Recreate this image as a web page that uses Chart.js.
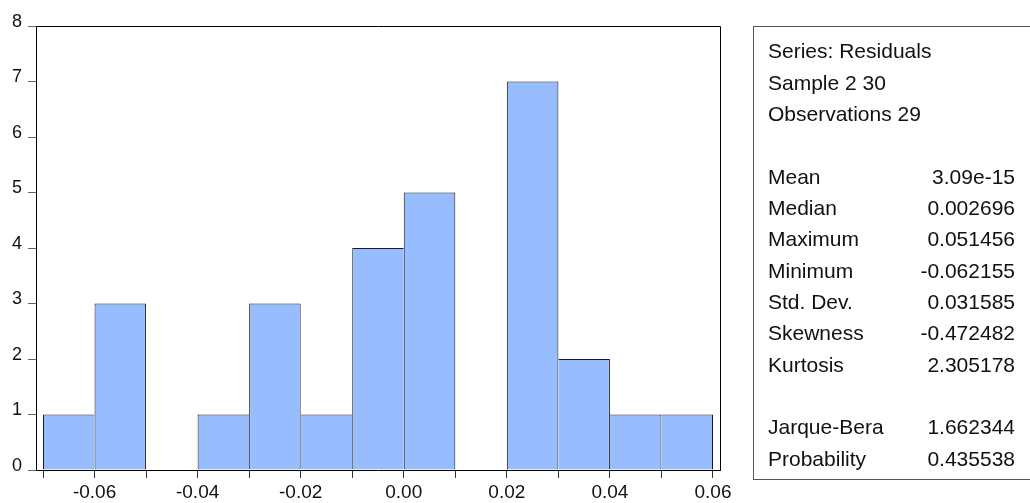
<!DOCTYPE html>
<html>
<head>
<meta charset="utf-8">
<script src="https://cdn.jsdelivr.net/npm/chart.js@4.4.1/dist/chart.umd.min.js"></script>
<style>
  html, body { margin: 0; padding: 0; background: #fff; }
  #wrap { position: relative; width: 1030px; height: 503px; overflow: hidden; }
  #c { position: absolute; left: 0; top: 0; }
  #stats {
    position: absolute; left: 753px; top: 26px; width: 320px; height: 454px;
    border: 1px solid #555; box-sizing: border-box; background: transparent;
  }
  .line {
    position: absolute; left: 768px; width: 247px; height: 31px;
    font-family: "Liberation Sans", Arial, sans-serif; font-size: 21px; color: #111;
    line-height: 31px; white-space: nowrap;
  }
  .line .v { position: absolute; right: 0; top: 0; }
</style>
</head>
<body>
<div id="wrap">
  <canvas id="c" width="1030" height="503"></canvas>
  <div id="stats"></div>
</div>
<script>
// ---- data ----
const binCenters = [-0.065, -0.055, -0.045, -0.035, -0.025, -0.015, -0.005, 0.005, 0.015, 0.025, 0.035, 0.045, 0.055];
const binCounts  = [1, 3, 0, 1, 3, 1, 4, 5, 0, 7, 2, 1, 1];
const xTickValues = [-0.07, -0.06, -0.05, -0.04, -0.03, -0.02, -0.01, 0.00, 0.01, 0.02, 0.03, 0.04, 0.05, 0.06];
const xTickLabels = ['', '-0.06', '', '-0.04', '', '-0.02', '', '0.00', '', '0.02', '', '0.04', '', '0.06'];
const yTickValues = [0, 1, 2, 3, 4, 5, 6, 7, 8];
const headerLines = ['Series: Residuals', 'Sample 2 30', 'Observations 29'];
const statNames  = ['Mean', 'Median', 'Maximum', 'Minimum', 'Std. Dev.', 'Skewness', 'Kurtosis'];
const statValues = ['3.09e-15', '0.002696', '0.051456', '-0.062155', '0.031585', '-0.472482', '2.305178'];
const testNames  = ['Jarque-Bera', 'Probability'];
const testValues = ['1.662344', '0.435538'];

// ---- stats panel (real text) ----
(function () {
  const wrap = document.getElementById('wrap');
  const rows = [];
  headerLines.forEach(t => rows.push([t, '']));
  rows.push(null);
  statNames.forEach((n, i) => rows.push([n, statValues[i]]));
  rows.push(null);
  testNames.forEach((n, i) => rows.push([n, testValues[i]]));
  const firstBaseline = 58, step = 31.35, fs = 21, lh = 31;
  const baseInBox = (lh - 1.117 * fs) / 2 + 0.905 * fs;
  rows.forEach((r, k) => {
    if (!r) return;
    const d = document.createElement('div');
    d.className = 'line';
    d.style.top = (firstBaseline + k * step - baseInBox) + 'px';
    const l = document.createElement('span'); l.textContent = r[0]; d.appendChild(l);
    if (r[1]) { const v = document.createElement('span'); v.className = 'v'; v.textContent = r[1]; d.appendChild(v); }
    wrap.appendChild(d);
  });
})();

// ---- chart ----
const framePlugin = {
  id: 'frame',
  afterDraw(chart) {
    const a = chart.chartArea, ctx = chart.ctx;
    ctx.save();
    ctx.strokeStyle = '#000';
    ctx.lineWidth = 1;
    ctx.beginPath();
    const l = Math.round(a.left) + 0.5, r = Math.round(a.right) + 0.5, t = Math.round(a.top) + 0.5, b = Math.round(a.bottom) + 0.5;
    ctx.moveTo(l, t); ctx.lineTo(r, t); ctx.lineTo(r, b);
    ctx.stroke();
    ctx.restore();
  }
};

new Chart(document.getElementById('c'), {
  type: 'bar',
  data: {
    datasets: [{
      data: binCenters.map((x, i) => ({ x: x, y: binCounts[i] })),
      backgroundColor: 'rgb(151,189,255)',
      borderColor: '#1a1a1a',
      borderWidth: (ctx) => {
        const i = ctx.dataIndex, c = binCounts[i];
        if (!c) return 0;
        const prev = i > 0 ? binCounts[i - 1] : 0;
        const next = i < binCounts.length - 1 ? binCounts[i + 1] : 0;
        return { top: 1, left: c > prev ? 1 : 0, right: c >= next ? 1 : 0, bottom: 0 };
      },
      borderSkipped: 'start',
      inflateAmount: 0,
      barPercentage: 1,
      categoryPercentage: 1
    }]
  },
  options: {
    responsive: false,
    animation: false,
    events: [],
    layout: { padding: { top: 26, right: 310, left: 0, bottom: 0 } },
    plugins: { legend: { display: false }, tooltip: { enabled: false } },
    scales: {
      x: {
        type: 'linear',
        min: -0.07136,
        max: 0.06136,
        offset: false,
        afterBuildTicks: (s) => { s.ticks = xTickValues.map(v => ({ value: v })); },
        afterFit: (s) => { s.height = 33; },
        ticks: {
          autoSkip: false, maxRotation: 0, padding: 3,
          color: '#111',
          font: { family: 'Liberation Sans', size: 19 },
          callback: (v, i) => xTickLabels[i]
        },
        grid: { offset: false, drawOnChartArea: false, drawTicks: true, tickLength: 8, color: '#333' },
        border: { display: true, color: '#000', width: 1 }
      },
      y: {
        type: 'linear',
        min: 0,
        max: 8,
        afterBuildTicks: (s) => { s.ticks = yTickValues.map(v => ({ value: v })); },
        afterFit: (s) => { s.width = 36; },
        ticks: {
          padding: 6,
          labelOffset: -4,
          color: '#111',
          font: { family: 'Liberation Sans', size: 18 },
          callback: (v) => String(v)
        },
        grid: { drawOnChartArea: false, drawTicks: true, tickLength: 8, color: '#666' },
        border: { display: true, color: '#000', width: 1 }
      }
    }
  },
  plugins: [framePlugin]
});
</script>
</body>
</html>
